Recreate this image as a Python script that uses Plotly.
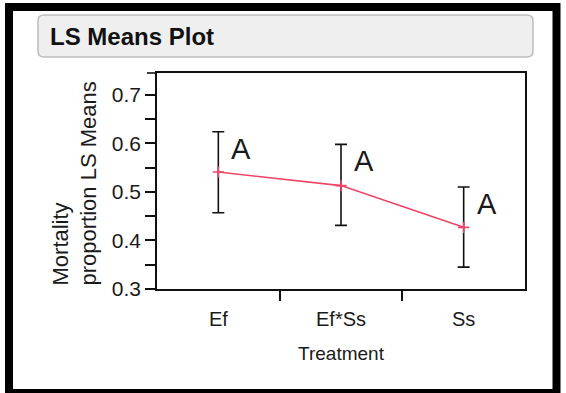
import plotly.graph_objects as go

treatments = ["Ef", "Ef*Ss", "Ss"]
ls_means = [0.541, 0.513, 0.427]
upper_ci = [0.624, 0.598, 0.510]
lower_ci = [0.457, 0.431, 0.345]
groups = ["A", "A", "A"]
y_ticks = [0.3, 0.4, 0.5, 0.6, 0.7]

W, H = 566, 393
L, R, T, B = 157, 525, 73, 289
pw, ph = R - L, B - T
y0, y1 = 0.3, 0.745

def px(x):
    return (x - L) / pw

def py(y):
    return (B - y) / ph

FONT = "Liberation Sans, Arial, sans-serif"
TXT = "#1a1a1a"

xs = list(range(len(treatments)))
err_plus = [u - m for u, m in zip(upper_ci, ls_means)]
err_minus = [m - l for m, l in zip(ls_means, lower_ci)]

fig = go.Figure()
fig.add_trace(go.Scatter(
    x=xs, y=ls_means, mode="lines+markers",
    line=dict(color="#ee4466", width=1.6),
    marker=dict(symbol="cross-thin", size=8, line=dict(color="#ee4466", width=1.6)),
    error_y=dict(type="data", symmetric=False, array=err_plus, arrayminus=err_minus,
                 color="#111111", thickness=1.6, width=6),
    showlegend=False, hoverinfo="skip",
))
# invisible trace to activate secondary x axis for boundary ticks
fig.add_trace(go.Scatter(x=[0.5, 1.5], y=[None, None], xaxis="x2", showlegend=False))

annotations = []
for i, g in enumerate(groups):
    annotations.append(dict(x=i, y=upper_ci[i], xref="x", yref="y", text=g,
                            showarrow=False, xanchor="left", yanchor="middle",
                            xshift=11, yshift=-17,
                            font=dict(family=FONT, size=29, color=TXT)))
annotations.append(dict(x=px(74), y=py(183.5), xref="paper", yref="paper",
                        text="Mortality<br>proportion LS Means", textangle=-90,
                        align="left", showarrow=False, xanchor="center", yanchor="middle",
                        font=dict(family=FONT, size=22, color=TXT)))
annotations.append(dict(x=px(48), y=py(37), xref="paper", yref="paper",
                        text="<b>LS Means Plot</b>", showarrow=False,
                        xanchor="left", yanchor="middle",
                        font=dict(family=FONT, size=24, color="#111111")))

# rounded title box path
bx0, bx1, by0, by1, r = 38, 533, 15, 57, 6
path = (f"M {px(bx0+r)},{py(by0)} L {px(bx1-r)},{py(by0)} "
        f"Q {px(bx1)},{py(by0)} {px(bx1)},{py(by0+r)} "
        f"L {px(bx1)},{py(by1-r)} Q {px(bx1)},{py(by1)} {px(bx1-r)},{py(by1)} "
        f"L {px(bx0+r)},{py(by1)} Q {px(bx0)},{py(by1)} {px(bx0)},{py(by1-r)} "
        f"L {px(bx0)},{py(by0+r)} Q {px(bx0)},{py(by0)} {px(bx0+r)},{py(by0)} Z")

shapes = [
    dict(type="rect", xref="paper", yref="paper", x0=px(9), x1=px(556.5), y0=py(7), y1=py(393),
         line=dict(color="black", width=8), fillcolor="rgba(0,0,0,0)", layer="above"),
    dict(type="path", xref="paper", yref="paper", path=path,
         fillcolor="#efefef", line=dict(color="#bdbdbd", width=1.5)),
    dict(type="line", xref="paper", yref="paper", x0=px(147), x1=0, y0=1, y1=1,
         line=dict(color="#111111", width=1.6)),
]

fig.update_layout(
    width=W, height=H,
    margin=dict(l=L, r=W - R, t=T, b=H - B),
    paper_bgcolor="white", plot_bgcolor="white",
    font=dict(family=FONT, color=TXT),
    xaxis=dict(range=[-0.5, 2.5], tickvals=xs, ticktext=treatments,
               ticks="outside", ticklen=11, tickcolor="rgba(0,0,0,0)",
               showgrid=False, zeroline=False, showline=True, linecolor="#111111",
               linewidth=1.6, mirror=True, tickfont=dict(family=FONT, size=20, color=TXT),
               title=dict(text="Treatment", font=dict(family=FONT, size=19, color=TXT), standoff=18)),
    xaxis2=dict(range=[-0.5, 2.5], overlaying="x", side="bottom", anchor="y",
                tickvals=[0.5, 1.5], showticklabels=False, ticks="outside", ticklen=11,
                tickwidth=1.6, tickcolor="#111111", showgrid=False, zeroline=False, showline=False),
    yaxis=dict(range=[y0, y1], tickvals=y_ticks, tickformat=".1f",
               ticks="outside", ticklen=10, tickwidth=1.6, tickcolor="#111111",
               minor=dict(tickvals=[0.35, 0.45, 0.55, 0.65], ticks="outside", ticklen=10,
                          tickwidth=1.6, tickcolor="#111111", showgrid=False),
               showgrid=False, zeroline=False, showline=True, linecolor="#111111",
               linewidth=1.6, mirror=True, tickfont=dict(family=FONT, size=21, color=TXT)),
    annotations=annotations,
    shapes=shapes,
)

fig.write_html("out.html")
